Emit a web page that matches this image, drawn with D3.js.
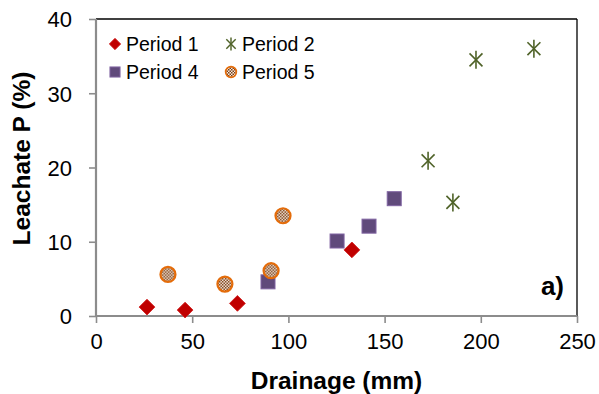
<!DOCTYPE html>
<html>
<head>
<meta charset="utf-8">
<script src="https://cdn.jsdelivr.net/npm/d3@7"></script>
<style>
  body { margin: 0; background: #fff; }
  svg { display: block; font-family: "Liberation Sans", Arial, sans-serif; }
</style>
</head>
<body>
<div id="chart"><svg></svg></div>
<script>
var width = 599;
var height = 394;
var margins = { left: 96, top: 19, right: 22, bottom: 78 };

// values (drainage mm, leachate P %)
var period1 = [[26.5, 1.2], [46.3, 0.8], [73.5, 1.7], [133, 8.9]];
var period2 = [[197.5, 34.5], [227.6, 36], [172.6, 20.9], [185.5, 15.3]];
var period4 = [[89.4, 4.6], [125.3, 10.1], [141.9, 12.1], [155, 15.8]];
var period5 = [[37.4, 5.6], [67, 4.3], [91, 6.1], [97.2, 13.5]];
var xTicks = [0, 50, 100, 150, 200, 250];
var yTicks = [0, 10, 20, 30, 40];
var seriesNames = ["Period 1", "Period 2", "Period 4", "Period 5"];

var series = [
  { name: seriesNames[0], data: period1, shape: "diamond" },
  { name: seriesNames[1], data: period2, shape: "star" },
  { name: seriesNames[2], data: period4, shape: "square" },
  { name: seriesNames[3], data: period5, shape: "circle" }
];

var svg = d3.select("#chart").select("svg")
    .attr("width", width)
    .attr("height", height);

// checker pattern for the orange circles
var defs = svg.append("defs");
var pat = defs.append("pattern")
    .attr("id", "checks")
    .attr("patternUnits", "userSpaceOnUse")
    .attr("width", 3).attr("height", 3);
pat.append("rect").attr("width", 3).attr("height", 3).attr("fill", "#f6ece2");
pat.append("rect").attr("width", 1.5).attr("height", 1.5).attr("fill", "#7a3c12");
pat.append("rect").attr("x", 1.5).attr("y", 1.5).attr("width", 1.5).attr("height", 1.5).attr("fill", "#7a3c12");

var plotW = width - margins.left - margins.right;
var plotH = height - margins.top - margins.bottom;

var xscale = d3.scaleLinear().domain([0, 250]).range([0, plotW]);
var yscale = d3.scaleLinear().domain([0, 40]).range([plotH, 0]);

var g = svg.append("g")
    .attr("transform", "translate(" + margins.left + "," + margins.top + ")");

// frame: top and right in black
g.append("line").attr("x1", 0).attr("x2", plotW).attr("y1", 0).attr("y2", 0)
    .attr("stroke", "#000").attr("stroke-width", 1.3);
g.append("line").attr("x1", plotW).attr("x2", plotW).attr("y1", 0).attr("y2", plotH)
    .attr("stroke", "#000").attr("stroke-width", 1.3);

var xaxis = d3.axisBottom(xscale).tickValues(xTicks).tickSize(7).tickPadding(10);
var yaxis = d3.axisLeft(yscale).tickValues(yTicks).tickSize(7).tickPadding(17);

var gx = g.append("g").attr("transform", "translate(0," + plotH + ")").call(xaxis);
var gy = g.append("g").call(yaxis);
[gx, gy].forEach(function(a) {
  a.select(".domain").attr("stroke", "#8c8c8c").attr("stroke-width", 2.2);
  a.selectAll(".tick line").attr("stroke", "#8c8c8c").attr("stroke-width", 1.6);
  a.selectAll("text").attr("fill", "#000").style("font-size", "22px")
    .style("font-family", "Liberation Sans, Arial, sans-serif");
});
gy.selectAll("text").attr("dy", "0.36em");
gx.selectAll("text").attr("dy", "0.74em");
gx.select(".domain").attr("d", "M0,0H" + plotW);
gy.select(".domain").attr("d", "M0," + plotH + "V0");

// axis titles
svg.append("text")
    .attr("x", 336.5).attr("y", 389)
    .attr("text-anchor", "middle")
    .style("font-weight", "bold").style("font-size", "24.5px")
    .text("Drainage (mm)");
svg.append("text")
    .attr("transform", "translate(30,158.5) rotate(-90)")
    .attr("text-anchor", "middle")
    .style("font-weight", "bold").style("font-size", "24.5px")
    .text("Leachate P (%)");

svg.append("text")
    .attr("x", 564).attr("y", 295)
    .attr("text-anchor", "end")
    .style("font-weight", "bold").style("font-size", "26px")
    .text("a)");

function drawMarker(sel, shape, scale) {
  scale = scale || 1;
  if (shape === "diamond") {
    sel.append("path")
      .attr("d", d3.symbol().type(d3.symbolSquare).size(125 * scale * scale)())
      .attr("transform", "rotate(45)")
      .attr("fill", "#c00000").attr("stroke", "#d02020").attr("stroke-width", 0.8);
  } else if (shape === "star") {
    var r = 9 * scale;
    var lines = [[0, -r, 0, r], [-r * 0.72, -r * 0.72, r * 0.72, r * 0.72], [-r * 0.72, r * 0.72, r * 0.72, -r * 0.72]];
    lines.forEach(function(l) {
      sel.append("line")
        .attr("x1", l[0]).attr("y1", l[1]).attr("x2", l[2]).attr("y2", l[3])
        .attr("stroke", "#4f6228").attr("stroke-width", 1.6 * Math.max(scale, 0.9));
    });
  } else if (shape === "square") {
    var s = 14 * scale;
    sel.append("rect").attr("x", -s / 2).attr("y", -s / 2).attr("width", s).attr("height", s)
      .attr("fill", "#604a7b").attr("stroke", "#8064a2").attr("stroke-width", 1);
  } else {
    sel.append("circle").attr("r", 7.5 * scale)
      .attr("fill", "url(#checks)").attr("stroke", "#e46c0a").attr("stroke-width", 2.2 * scale);
  }
}

series.forEach(function(s) {
  g.append("g").selectAll("g.pt")
    .data(s.data)
    .enter().append("g")
    .attr("class", "pt")
    .attr("transform", function(d) { return "translate(" + xscale(d[0]) + "," + yscale(d[1]) + ")"; })
    .each(function() { drawMarker(d3.select(this), s.shape, 1); });
});

// legend
var legPos = [[115, 44], [231, 44], [115, 72], [231, 72]];
series.forEach(function(s, i) {
  var lg = svg.append("g").attr("transform", "translate(" + legPos[i][0] + "," + legPos[i][1] + ")");
  var m = lg.append("g");
  drawMarker(m, s.shape, 0.72);
  lg.append("text").attr("x", 11).attr("y", 0).attr("dy", "0.36em")
    .style("font-size", "19.5px").text(s.name);
});
</script>
</body>
</html>
